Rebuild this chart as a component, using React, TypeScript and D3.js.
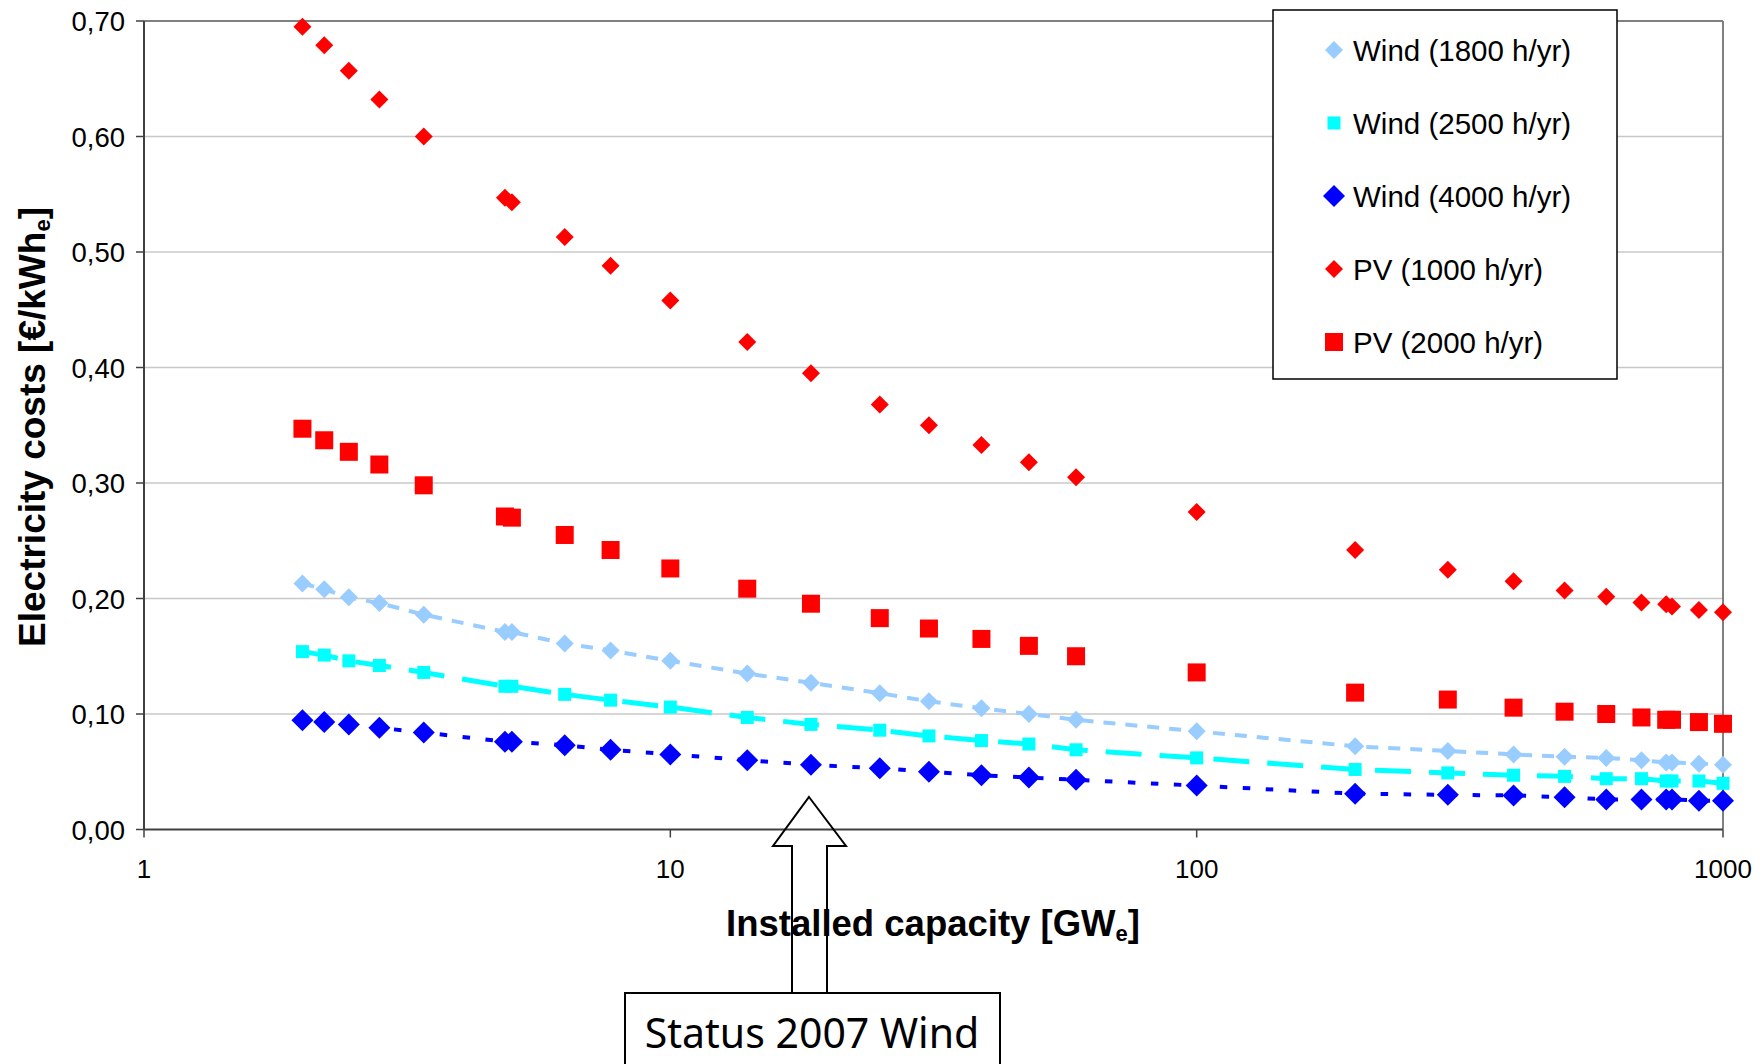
import React, { useEffect } from "react";
import * as d3 from "d3";

const capacity = [2, 2.2, 2.45, 2.8, 3.4, 4.85, 5, 6.3, 7.7, 10, 14, 18.5, 25, 31, 39, 48, 59, 100, 200, 300, 400, 500, 600, 700, 780, 800, 900, 1000];
const wind1800 = [0.213, 0.208, 0.201, 0.196, 0.186, 0.171, 0.171, 0.161, 0.155, 0.146, 0.135, 0.127, 0.118, 0.111, 0.105, 0.1, 0.095, 0.085, 0.072, 0.068, 0.065, 0.063, 0.062, 0.06, 0.058, 0.058, 0.057, 0.056];
const wind2500 = [0.154, 0.151, 0.146, 0.142, 0.136, 0.124, 0.124, 0.117, 0.112, 0.106, 0.097, 0.091, 0.086, 0.081, 0.077, 0.074, 0.069, 0.062, 0.052, 0.049, 0.047, 0.046, 0.044, 0.044, 0.042, 0.042, 0.042, 0.04];
const wind4000 = [0.0945, 0.093, 0.091, 0.088, 0.084, 0.076, 0.076, 0.073, 0.069, 0.065, 0.06, 0.056, 0.053, 0.05, 0.047, 0.045, 0.043, 0.038, 0.031, 0.03, 0.0295, 0.028, 0.026, 0.026, 0.026, 0.026, 0.025, 0.025];
const pv1000 = [0.695, 0.679, 0.657, 0.632, 0.6, 0.547, 0.543, 0.513, 0.488, 0.458, 0.422, 0.395, 0.368, 0.35, 0.333, 0.318, 0.305, 0.275, 0.242, 0.225, 0.215, 0.207, 0.2015, 0.1965, 0.195, 0.193, 0.19, 0.188];
const pv2000 = [0.347, 0.337, 0.327, 0.316, 0.298, 0.271, 0.27, 0.255, 0.242, 0.226, 0.2085, 0.1955, 0.183, 0.174, 0.165, 0.159, 0.15, 0.136, 0.1185, 0.1125, 0.1055, 0.102, 0.1, 0.097, 0.095, 0.095, 0.093, 0.0915];

const seriesNames = ["Wind (1800 h/yr)", "Wind (2500 h/yr)", "Wind (4000 h/yr)", "PV (1000 h/yr)", "PV (2000 h/yr)"];
const yTicks = [0, 0.1, 0.2, 0.3, 0.4, 0.5, 0.6, 0.7];
const xTicks = [1, 10, 100, 1000];

type Style = { color: string; shape: "diamond" | "square"; size: number; dash: string | null; lineWidth: number };
const styles: Style[] = [
  { color: "#99CCFF", shape: "diamond", size: 9, dash: "12,10", lineWidth: 4 },
  { color: "#00FFFF", shape: "square", size: 6.5, dash: "36,18", lineWidth: 5 },
  { color: "#0000FF", shape: "diamond", size: 11, dash: "7.5,15.5", lineWidth: 4 },
  { color: "#FF0000", shape: "diamond", size: 9, dash: null, lineWidth: 0 },
  { color: "#FF0000", shape: "square", size: 9, dash: null, lineWidth: 0 },
];
const seriesValues = [wind1800, wind2500, wind4000, pv1000, pv2000];

const L = 144, R = 1723, T = 21, B = 829.5;
const x = d3.scaleLog().domain([1, 1000]).range([L, R]);
const y = d3.scaleLinear().domain([0, 0.7]).range([B, T]);

function Marker({ cx, cy, st }: { cx: number; cy: number; st: Style }) {
  if (st.shape === "diamond") {
    const s = st.size;
    return <path d={`M${cx},${cy - s}L${cx + s},${cy}L${cx},${cy + s}L${cx - s},${cy}Z`} fill={st.color} />;
  }
  const s = st.size;
  return <rect x={cx - s} y={cy - s} width={2 * s} height={2 * s} fill={st.color} />;
}

export default function App() {
  useEffect(() => {
    document.body.style.margin = "0";
    document.body.style.overflow = "hidden";
  }, []);
  const line = d3.line<number>().x((_, i) => x(capacity[i])).y((v) => y(v));
  const font = "'Liberation Sans', Arial, sans-serif";
  return (
    <svg width={1762} height={1064} style={{ position: "absolute", left: 0, top: 0, background: "#fff" }} fontFamily={font}>
      <rect x={0} y={0} width={1762} height={1064} fill="#fff" />
      {yTicks.slice(1).map((t) => (
        <line key={t} x1={L} x2={R} y1={y(t)} y2={y(t)} stroke="#C8C8C8" strokeWidth={1.5} />
      ))}
      <line x1={L} x2={R} y1={T} y2={T} stroke="#808080" strokeWidth={2} />
      <line x1={R} x2={R} y1={T} y2={B} stroke="#808080" strokeWidth={2} />
      <line x1={L} x2={L} y1={T} y2={B} stroke="#404040" strokeWidth={2} />
      <line x1={L} x2={R} y1={B} y2={B} stroke="#404040" strokeWidth={2} />
      {yTicks.map((t) => (
        <g key={t}>
          <line x1={L - 8} x2={L} y1={y(t)} y2={y(t)} stroke="#404040" strokeWidth={1.5} />
          <text x={L - 19} y={y(t) + 10} fontSize={27.5} textAnchor="end" fill="#000">
            {d3.format(".2f")(t).replace(".", ",")}
          </text>
        </g>
      ))}
      {xTicks.map((t) => (
        <g key={t}>
          <line x1={x(t)} x2={x(t)} y1={B} y2={B + 8} stroke="#404040" strokeWidth={1.5} />
          <text x={x(t)} y={878} fontSize={26} textAnchor="middle" fill="#000">{t}</text>
        </g>
      ))}
      {seriesValues.map((vals, si) => {
        const st = styles[si];
        return (
          <g key={si}>
            {st.dash && (
              <path d={line(vals) || ""} fill="none" stroke={st.color} strokeWidth={st.lineWidth} strokeDasharray={st.dash} />
            )}
            {vals.map((v, i) => (
              <Marker key={i} cx={x(capacity[i])} cy={y(v)} st={st} />
            ))}
          </g>
        );
      })}
      <text x={933} y={936} fontSize={36.5} fontWeight="bold" textAnchor="middle" fill="#000">
        Installed capacity [GW<tspan fontSize={22} dy={5}>e</tspan><tspan dy={-5}>]</tspan>
      </text>
      <text transform="translate(45,427) rotate(-90)" fontSize={37} fontWeight="bold" textAnchor="middle" fill="#000">
        Electricity costs [€/kWh<tspan fontSize={22} dy={5}>e</tspan><tspan dy={-5}>]</tspan>
      </text>
      <g>
        <rect x={1273} y={10} width={344} height={369} fill="#fff" stroke="#000" strokeWidth={1.5} />
        {seriesNames.map((n, i) => {
          const cy = 50 + i * 73;
          return (
            <g key={n}>
              <Marker cx={1334} cy={cy} st={styles[i]} />
              <text x={1353} y={cy + 11} fontSize={29.5} fill="#000">{n}</text>
            </g>
          );
        })}
      </g>
      <path d="M809,797 L846,846 L827,846 L827,993 L792,993 L792,846 L773,846 Z" fill="none" stroke="#000" strokeWidth={2} />
      <rect x={625} y={993} width={375} height={100} fill="#fff" stroke="#000" strokeWidth={2} />
      <text x={812} y={1048} fontSize={41} textAnchor="middle" fontFamily="'Noto Sans', sans-serif" fill="#000">Status 2007 Wind</text>
    </svg>
  );
}
